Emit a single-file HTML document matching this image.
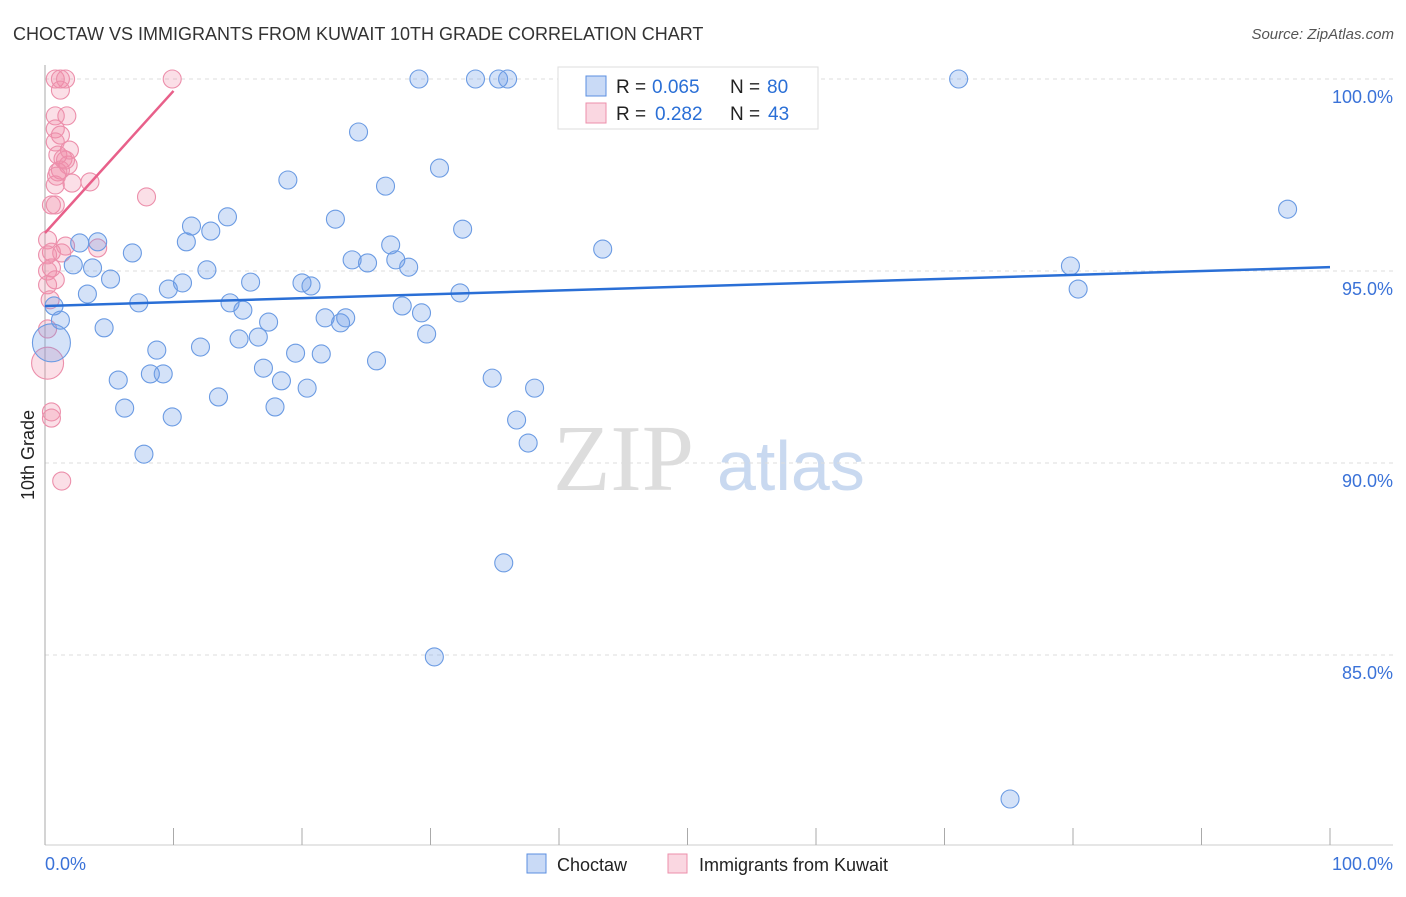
<!DOCTYPE html>
<html><head><meta charset="utf-8"><style>
body{margin:0;background:#fff;font-family:"Liberation Sans",sans-serif}
svg text{font-family:"Liberation Sans",sans-serif}
</style></head><body>
<svg width="1406" height="892" xmlns="http://www.w3.org/2000/svg">
<text x="13" y="40" font-size="18" fill="#333">CHOCTAW VS IMMIGRANTS FROM KUWAIT 10TH GRADE CORRELATION CHART</text>
<text x="1394" y="39" font-size="15" fill="#555" font-style="italic" text-anchor="end">Source: ZipAtlas.com</text>
<g>
<text x="553" y="490" font-size="94" fill="#ddd" style="font-family:'Liberation Serif',serif">ZIP</text>
<text x="717" y="490" font-size="70" fill="#c9d9f0">atlas</text>
</g>
<g id="grid"></g>
<g id="axes"></g>
<text x="34" y="455" font-size="18" fill="#222" transform="rotate(-90 34 455)" text-anchor="middle">10th Grade</text>
<g id="pts"></g>
<g id="trend"></g>
<g>
<rect x="558" y="67" width="260" height="62" fill="#fff" stroke="#ddd"/>
<rect x="586" y="76" width="20" height="20" fill="rgba(100,150,230,0.35)" stroke="#5b8fe0"/>
<text x="616" y="93" font-size="19" fill="#222">R =</text>
<text x="652" y="93" font-size="19" fill="#2a6fd6">0.065</text>
<text x="730" y="93" font-size="19" fill="#222">N =</text>
<text x="767" y="93" font-size="19" fill="#2a6fd6">80</text>
<rect x="586" y="103" width="20" height="20" fill="rgba(240,140,170,0.35)" stroke="#ec8fab"/>
<text x="616" y="120" font-size="19" fill="#222">R =</text>
<text x="655" y="120" font-size="19" fill="#2a6fd6">0.282</text>
<text x="730" y="120" font-size="19" fill="#222">N =</text>
<text x="768" y="120" font-size="19" fill="#2a6fd6">43</text>
</g>
<g>
<rect x="527" y="854" width="19" height="19" fill="rgba(100,150,230,0.35)" stroke="#5b8fe0"/>
<text x="557" y="871" font-size="18" fill="#222">Choctaw</text>
<rect x="668" y="854" width="19" height="19" fill="rgba(240,140,170,0.35)" stroke="#ec8fab"/>
<text x="699" y="871" font-size="18" fill="#222">Immigrants from Kuwait</text>
</g>
</svg>
<script>
const yTicks=[100,95,90,85];
const yTickLabels=["100.0%","95.0%","90.0%","85.0%"];
const xTickLabels=["0.0%","100.0%"];
const blueX=[0.7,1.2,0.5,2.7,4.1,2.2,3.7,5.1,3.3,4.6,6.8,7.3,5.7,6.2,7.7,8.7,8.2,9.2,9.9,9.6,10.7,11.0,11.4,12.9,12.6,14.2,12.1,13.5,14.4,15.1,15.4,16.0,16.6,17.4,17.0,18.4,17.9,18.9,19.5,20.0,20.7,20.4,21.5,21.8,22.6,23.0,23.4,23.9,25.1,24.4,25.8,26.5,26.9,27.3,28.3,27.8,29.3,29.7,30.7,32.3,32.5,29.1,33.5,35.3,36.0,45.4,51.0,34.8,36.7,37.6,38.1,35.7,30.3,43.4,71.1,79.8,80.4,96.7,75.1];
const blueY=[94.09,93.72,93.13,95.73,95.76,95.16,95.08,94.79,94.40,93.52,95.47,94.17,92.16,91.43,90.23,92.94,92.32,92.32,91.20,94.53,94.69,95.76,96.17,96.04,95.03,96.41,93.02,91.72,94.17,93.23,93.98,94.71,93.28,93.67,92.47,92.14,91.46,97.37,92.86,94.69,94.61,91.95,92.84,93.78,96.35,93.65,93.78,95.29,95.21,98.62,92.66,97.21,95.68,95.29,95.10,94.09,93.91,93.36,97.68,94.43,96.09,100,100,100,100,100,100,92.21,91.12,90.52,91.95,87.40,84.95,95.57,100,95.13,94.53,96.61,81.25];
const pinkX=[0.8,1.2,1.6,1.2,9.9,1.7,0.8,0.8,1.2,0.8,1.0,1.4,1.8,1.2,1.0,3.5,2.1,0.8,7.9,0.5,0.8,0.2,1.6,4.1,0.5,1.3,0.5,0.2,0.8,0.2,0.2,0.2,0.5,0.5,1.3,1.6,0.9,0.2,1.9,0.4];
const pinkY=[100,100,100,99.71,100,99.04,99.04,98.70,98.54,98.36,98.02,97.92,97.76,97.63,97.58,97.32,97.29,97.24,96.93,96.72,96.72,95.81,95.65,95.60,95.49,95.47,95.08,95.0,94.77,94.64,93.49,92.60,91.33,91.17,89.53,97.89,97.47,95.42,98.15,94.25];
const blueTrend=[94.09,95.10];
const pinkTrend=[95.99,99.69,10];
const NS="http://www.w3.org/2000/svg";
const X=v=>45+v*12.85, Y=v=>79+(100-v)*38.4;
function mk(tag,attrs,parent){const e=document.createElementNS(NS,tag);for(const k in attrs)e.setAttribute(k,attrs[k]);parent.appendChild(e);return e;}
const grid=document.getElementById('grid'),axes=document.getElementById('axes');
yTicks.forEach((t,i)=>{
 const l=mk('line',{x1:45,x2:1393,y1:Y(t),y2:Y(t),stroke:'#ddd','stroke-dasharray':'4 4'},grid);
 
 
 const tx=mk('text',{x:1393,y:Y(t)+24,'font-size':18,fill:'#3a72d8','text-anchor':'end'},axes);
 tx.textContent=yTickLabels[i];
 
 
});
const al=mk('line',{x1:45,x2:45,y1:65,y2:845,stroke:'#aaa'},axes);


const bl=mk('line',{x1:45,x2:1393,y1:845,y2:845,stroke:'#ccc'},axes);


for(let i=0;i<=10;i++){
 const t=mk('line',{x1:X(i*10),x2:X(i*10),y1:828,y2:845,stroke:'#aaa'},axes);
 
 
}
[[0,'start',45],[100,'end',1393]].forEach((d,i)=>{
 const t=mk('text',{x:d[2],y:870,'font-size':18,fill:'#3a72d8','text-anchor':d[1]},axes);
 t.textContent=xTickLabels[i];
 
 
});
const pts=document.getElementById('pts');
pinkX.forEach((x,i)=>{
 const c=mk('circle',{cx:X(x),cy:Y(pinkY[i]),r:(i==31?16:9),fill:'rgba(240,140,170,0.28)',stroke:'#ec8fab','stroke-width':1.1},pts);
 
 
});
blueX.forEach((x,i)=>{
 const c=mk('circle',{cx:X(x),cy:Y(blueY[i]),r:(i==2?19:9),fill:'rgba(100,150,230,0.28)',stroke:'#6b9be3','stroke-width':1.1},pts);
 
 
});
const tr=document.getElementById('trend');
const b=mk('line',{x1:X(0),y1:Y(blueTrend[0]),x2:X(100),y2:Y(blueTrend[1]),stroke:'#2a6fd6','stroke-width':2.5},tr);


const p=mk('line',{x1:X(0),y1:Y(pinkTrend[0]),x2:X(pinkTrend[2]),y2:Y(pinkTrend[1]),stroke:'#e8608a','stroke-width':2.5},tr);


</script>
</body></html>
